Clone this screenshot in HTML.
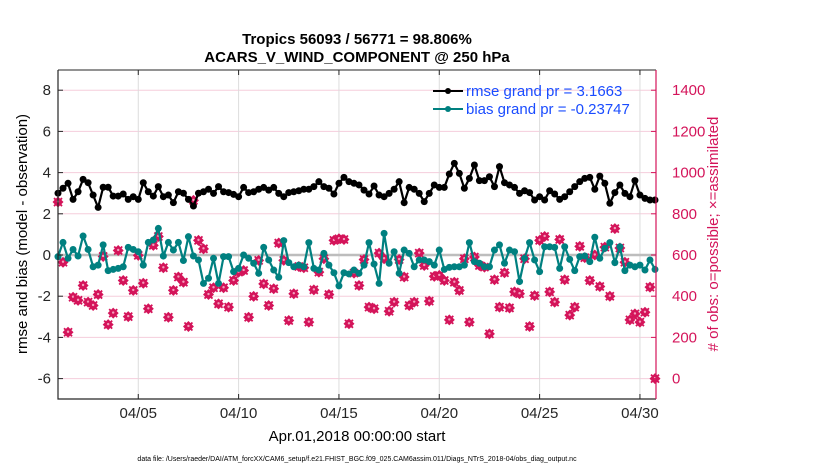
<!DOCTYPE html>
<html><head><meta charset="utf-8"><style>
html,body{margin:0;padding:0;background:#fff;}
svg{display:block;font-family:"Liberation Sans",sans-serif;}
</style></head><body>
<svg id="chart" width="830" height="470" viewBox="0 0 830 470" xmlns="http://www.w3.org/2000/svg">
<g id="grid"></g>
<g id="marks"></g>
<g id="axes"></g>
<text x="357" y="44" text-anchor="middle" font-size="15" font-weight="bold">Tropics 56093 / 56771 = 98.806%</text>
<text x="357" y="62" text-anchor="middle" font-size="15" font-weight="bold">ACARS_V_WIND_COMPONENT @ 250 hPa</text>
<text transform="translate(27,234) rotate(-90)" text-anchor="middle" font-size="15">rmse and bias (model - observation)</text>
<text transform="translate(718,234) rotate(-90)" text-anchor="middle" font-size="15" fill="#d4145a"># of obs: o=possible; ×=assimilated</text>
<text x="357" y="441" text-anchor="middle" font-size="15">Apr.01,2018 00:00:00 start</text>
<text x="357" y="461" text-anchor="middle" font-size="7">data file: /Users/raeder/DAI/ATM_forcXX/CAM6_setup/f.e21.FHIST_BGC.f09_025.CAM6assim.011/Diags_NTrS_2018-04/obs_diag_output.nc</text>
<g>
<line x1="433" y1="91" x2="463" y2="91" stroke="#000" stroke-width="2"/><circle cx="448" cy="91" r="3" fill="#000"/>
<text x="466" y="96" font-size="15" fill="#1a4cff">rmse grand pr = 3.1663</text>
<line x1="433" y1="109" x2="463" y2="109" stroke="#008080" stroke-width="2"/><circle cx="448" cy="109" r="3" fill="#008080"/>
<text x="466" y="114" font-size="15" fill="#1a4cff">bias grand pr = -0.23747</text>
</g>
</svg>
<script>
const rmse = [3.0,3.24,3.48,2.7,3.07,3.67,3.51,2.91,2.31,3.29,3.29,2.86,2.86,2.96,2.7,2.83,2.7,3.51,3.07,2.86,3.32,2.83,2.91,2.54,3.07,3.0,2.7,2.38,3.0,3.07,
3.19,2.99,3.32,3.07,3.03,2.94,2.83,3.28,3.03,3.07,3.19,3.28,3.15,3.28,2.99,2.83,3.03,3.07,3.12,3.19,3.19,3.32,3.56,3.32,3.24,2.96,3.48,3.77,3.56,3.48,
3.40,3.15,2.96,3.35,2.91,2.83,2.99,3.19,3.56,2.54,3.28,3.19,2.99,2.59,2.99,3.40,3.28,3.28,3.93,4.45,3.96,3.24,3.72,4.37,3.61,3.61,3.80,3.32,4.29,3.51,
3.40,3.28,2.99,3.12,3.03,2.67,2.83,2.67,3.12,2.96,2.70,2.83,3.07,3.32,3.56,3.72,3.77,3.19,3.83,3.48,2.51,3.03,3.40,2.99,2.83,3.61,2.91,2.75,2.67,2.67];
const bias = [-0.08,0.61,-0.16,0.27,-0.05,0.92,0.27,-0.57,-0.49,0.49,-0.76,-0.70,-0.65,-0.57,0.37,0.27,0.16,-0.49,0.61,0.73,1.29,-0.05,0.61,0.24,0.61,-0.27,0.89,-0.05,-0.24,-1.38,
-1.13,-0.16,-1.38,-0.08,-0.08,-0.81,-0.65,0.0,-0.16,-0.40,-0.89,0.37,-0.24,-0.73,-1.08,0.70,-0.37,-0.57,-0.49,-0.57,0.60,-0.65,-0.73,0.08,-0.49,-0.86,-1.50,-0.86,-0.92,-0.73,
-0.89,-0.49,0.60,-0.44,-1.38,1.05,-0.40,0.16,-0.89,0.24,0.08,-0.57,-0.24,-0.24,-0.32,-0.49,0.24,-0.70,-0.60,-0.57,-0.57,-0.49,0.60,-0.32,-0.40,-0.57,-0.57,0.24,0.49,-0.40,
0.24,0.16,-1.29,-0.16,0.60,-0.24,-0.81,0.40,0.40,0.37,-0.65,0.40,-0.21,-0.76,-0.08,-0.05,-0.32,0.86,-0.16,0.32,0.60,-0.37,0.40,-0.76,-0.49,-0.57,-0.49,-0.73,-0.24,-0.70];
const obsCount = [857,565,225,395,380,452,371,355,408,593,262,318,622,476,301,428,598,463,339,647,690,538,298,428,493,468,253,865,671,630,
408,441,363,441,347,476,517,525,298,399,574,460,355,436,658,574,282,412,544,538,274,431,517,582,408,671,679,675,266,512,
452,578,347,339,609,582,327,371,578,493,355,371,609,549,376,496,501,476,285,468,428,582,274,590,549,541,217,480,347,514,
343,421,412,582,253,403,671,690,421,371,675,480,308,347,642,587,476,600,447,638,400,728,634,565,285,314,274,322,444,0];
const leftTicks = [-6,-4,-2,0,2,4,6,8];
const rightTicks = [0,200,400,600,800,1000,1200,1400];
const dayTicks = [5,10,15,20,25,30];
const dayLabels = ["04/05","04/10","04/15","04/20","04/25","04/30"];
const stepsPerDay = 4;

(function(){
const NS="http://www.w3.org/2000/svg";
const L=58,R=656,T=70,B=399;
const xOf=d=>L+(d-1)*(R-L)/29.8;
const yL=v=>255-v*20.6;
const yR=n=>yL(-6)-n*(yL(-6)-yL(8))/1400;
const idxX=i=>xOf(1+i/stepsPerDay);
function mk(tag,attrs,parent){const e=document.createElementNS(NS,tag);for(const k in attrs)e.setAttribute(k,attrs[k]);parent.appendChild(e);return e;}
const grid=document.getElementById('grid'),marks=document.getElementById('marks'),axes=document.getElementById('axes');

leftTicks.forEach(v=>{const g=mk('line',{x1:L,x2:R,y1:yL(v),y2:yL(v),stroke:'#f5cddc','stroke-width':1},grid);

});
dayTicks.forEach(d=>{const g=mk('line',{x1:xOf(d),x2:xOf(d),y1:T,y2:B,stroke:'#dcdcdc','stroke-width':1},grid);

});
const zl=mk('line',{x1:L,x2:R,y1:yL(0),y2:yL(0),stroke:'#bdbdbd','stroke-width':2.5},grid);



obsCount.forEach((n,i)=>{const x=idxX(i),y=yR(n);
const g=mk('g',{},marks);


mk('path',{d:`M${x-5.5},${y}L${x},${y-5.5}L${x+5.5},${y}L${x},${y+5.5}Z`,fill:'#d4145a'},g);
mk('path',{d:`M${x-4},${y-4}L${x+4},${y+4}M${x-4},${y+4}L${x+4},${y-4}`,stroke:'#d4145a','stroke-width':1.8},g);
mk('circle',{cx:x,cy:y-0.5,r:1.2,fill:'#f3a0bd'},g);
});
function series(vals,color,name){
 const pts=vals.map((v,i)=>idxX(i).toFixed(1)+','+yL(v).toFixed(1)).join(' ');
 const pl=mk('polyline',{points:pts,fill:'none',stroke:color,'stroke-width':2.2},marks);
 
 
 vals.forEach((v,i)=>{const c=mk('circle',{cx:idxX(i),cy:yL(v),r:3.5,fill:color},marks);
 
 });
}
series(bias,'#008080','bias');
series(rmse,'#000000','rmse');

const ax=mk('path',{d:`M${L},${T}L${L},${B}L${R},${B}`,fill:'none',stroke:'#262626','stroke-width':1.2},axes);


const topAx=mk('line',{x1:L,x2:R,y1:T,y2:T,stroke:'#262626','stroke-width':1},axes);


const ra=mk('line',{x1:R,x2:R,y1:T,y2:B,stroke:'#d4145a','stroke-width':1.2},axes);


leftTicks.forEach(v=>{mk('line',{x1:L,x2:L+5,y1:yL(v),y2:yL(v),stroke:'#262626'},axes);
const t=mk('text',{x:L-7,y:yL(v)+5,'text-anchor':'end','font-size':15,fill:'#262626'},axes);t.textContent=v;

});
rightTicks.forEach(n=>{mk('line',{x1:R-5,x2:R,y1:yR(n),y2:yR(n),stroke:'#d4145a'},axes);
const t=mk('text',{x:R+16,y:yR(n)+5,'text-anchor':'start','font-size':15,fill:'#d4145a'},axes);t.textContent=n;

});
dayTicks.forEach((d,k)=>{mk('line',{x1:xOf(d),x2:xOf(d),y1:B,y2:B-5,stroke:'#262626'},axes);
mk('line',{x1:xOf(d),x2:xOf(d),y1:T,y2:T+5,stroke:'#262626'},axes);
const t=mk('text',{x:xOf(d),y:B+19,'text-anchor':'middle','font-size':15,fill:'#262626'},axes);t.textContent=dayLabels[k];

});
})();
</script>
</body></html>
